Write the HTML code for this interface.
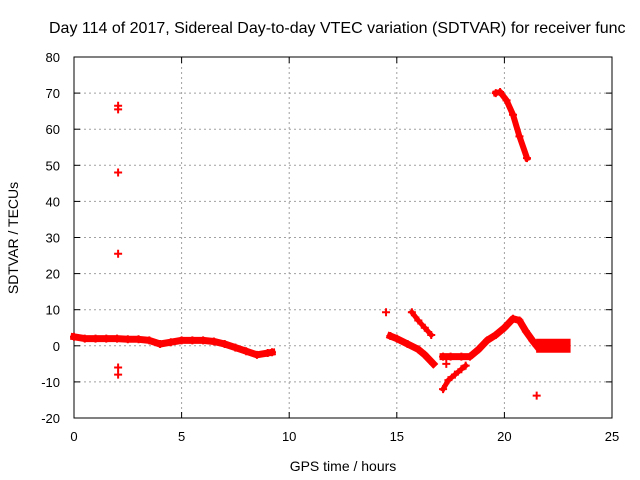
<!DOCTYPE html>
<html><head><meta charset="utf-8"><style>
body{margin:0;background:#fff;overflow:hidden;}
svg{display:block;font-family:"Liberation Sans",sans-serif;}
</style></head><body>
<svg id="c" width="640" height="480">
<text x="49" y="33" font-size="16" fill="#000">Day 114 of 2017, Sidereal Day-to-day VTEC variation (SDTVAR) for receiver func</text>
<g id="grid"></g><g id="axes"></g><g id="marks"></g>
<text x="343" y="471" font-size="14" text-anchor="middle">GPS time / hours</text>
<text transform="translate(18,238) rotate(-90)" font-size="14" text-anchor="middle">SDTVAR / TECUs</text>
</svg>
<script>
const xTicks=[0,5,10,15,20,25];
const yTicks=[-20,-10,0,10,20,30,40,50,60,70,80];
const bandMainX=[0,0.5,1,1.5,2,2.5,3,3.5,4,4.5,5,5.5,6,6.5,7,7.5,8,8.5,9,9.2];
const bandMainY=[2.5,2,2,2,2,1.8,1.8,1.5,0.5,1,1.5,1.5,1.5,1.2,0.5,-0.5,-1.5,-2.5,-2,-1.8];
const segAX=[14.7,15,15.5,16,16.3,16.7];
const segAY=[2.7,2,0.5,-1,-2.5,-5];
const segBX=[15.7,16,16.3,16.6];
const segBY=[9.3,7,5,3];
const segCX=[17.15,17.5,18,18.4,18.8,19.2,19.6,20,20.4,20.7,21,21.3,21.5];
const segCY=[-3,-3,-3,-3,-1,1.5,3,5,7.5,7,4,1.5,0];
const segDX=[17.15,17.4,17.7,18,18.2];
const segDY=[-12,-9.5,-8,-6.5,-5.5];
const topX=[19.6,19.8,20.1,20.4,20.7,21.05];
const topY=[70,70.3,68,64,58,52];
const blockX=[21.8,22,22.3,22.6,22.75];
const blockY=[0,0,0,0,0];
const outX=[2.05,2.05,2.05,2.05,2.05,2.05,14.5,21.5,17.3];
const outY=[66.5,65.5,48,25.5,-6,-8,9.3,-13.8,-5];
const L=74,R=612,T=57,B=418;
const sx=v=>L+(v-0)/(25-0)*(R-L);
const sy=v=>B-(v+20)/100*(B-T);
const NS="http://www.w3.org/2000/svg";
function mk(tag,parent,attrs){const e=document.createElementNS(NS,tag);for(const k in attrs)e.setAttribute(k,attrs[k]);parent.appendChild(e);return e;}
const grid=document.getElementById('grid'),axes=document.getElementById('axes'),marks=document.getElementById('marks');
xTicks.forEach(t=>{
 if(t>0&&t<25){const g=mk('line',grid,{x1:sx(t),x2:sx(t),y1:T,y2:B,stroke:'#a0a0a0','stroke-dasharray':'2,3'});
 
 }
 const tx=mk('text',axes,{x:sx(t),y:B+23,'font-size':13,'text-anchor':'middle'});tx.textContent=t;
 
 
 mk('line',axes,{x1:sx(t),x2:sx(t),y1:B,y2:B-6,stroke:'#000'});
 mk('line',axes,{x1:sx(t),x2:sx(t),y1:T,y2:T+6,stroke:'#000'});
});
yTicks.forEach(t=>{
 if(t>-20&&t<80){const g=mk('line',grid,{x1:L,x2:R,y1:sy(t),y2:sy(t),stroke:'#a0a0a0','stroke-dasharray':'2,3'});
 
 }
 const tx=mk('text',axes,{x:L-14,y:sy(t)+5,'font-size':13,'text-anchor':'end'});tx.textContent=t;
 
 
 mk('line',axes,{x1:L,x2:L+6,y1:sy(t),y2:sy(t),stroke:'#000'});
 mk('line',axes,{x1:R,x2:R-6,y1:sy(t),y2:sy(t),stroke:'#000'});
});
const fr=mk('rect',axes,{x:L,y:T,width:R-L,height:B-T,fill:'none',stroke:'#000'});


function band(xs,ys,w,name){
 const p=mk('polyline',marks,{points:xs.map((x,i)=>sx(x)+','+sy(ys[i])).join(' '),fill:'none',stroke:'#f00','stroke-width':w,'stroke-linejoin':'round','stroke-linecap':'square'});
 
 
 xs.forEach((x,i)=>plus(x,ys[i]));
}
function plus(x,y){
 const X=sx(x),Y=sy(y);
 const p=mk('path',marks,{d:`M${X-4},${Y}h8M${X},${Y-4}v8`,stroke:'#f00','stroke-width':2});
 
 
}
band(bandMainX,bandMainY,7,'series-main-band');
band(segAX,segAY,7,'series-segment-a');
band(segBX,segBY,5,'series-segment-b');
band(segCX,segCY,7,'series-segment-c');
band(segDX,segDY,5,'series-segment-d');
band(topX,topY,6,'series-top-arc');
band(blockX,blockY,14,'series-end-block');
outX.forEach((x,i)=>{plus(x,outY[i]);});
</script>
</body></html>
